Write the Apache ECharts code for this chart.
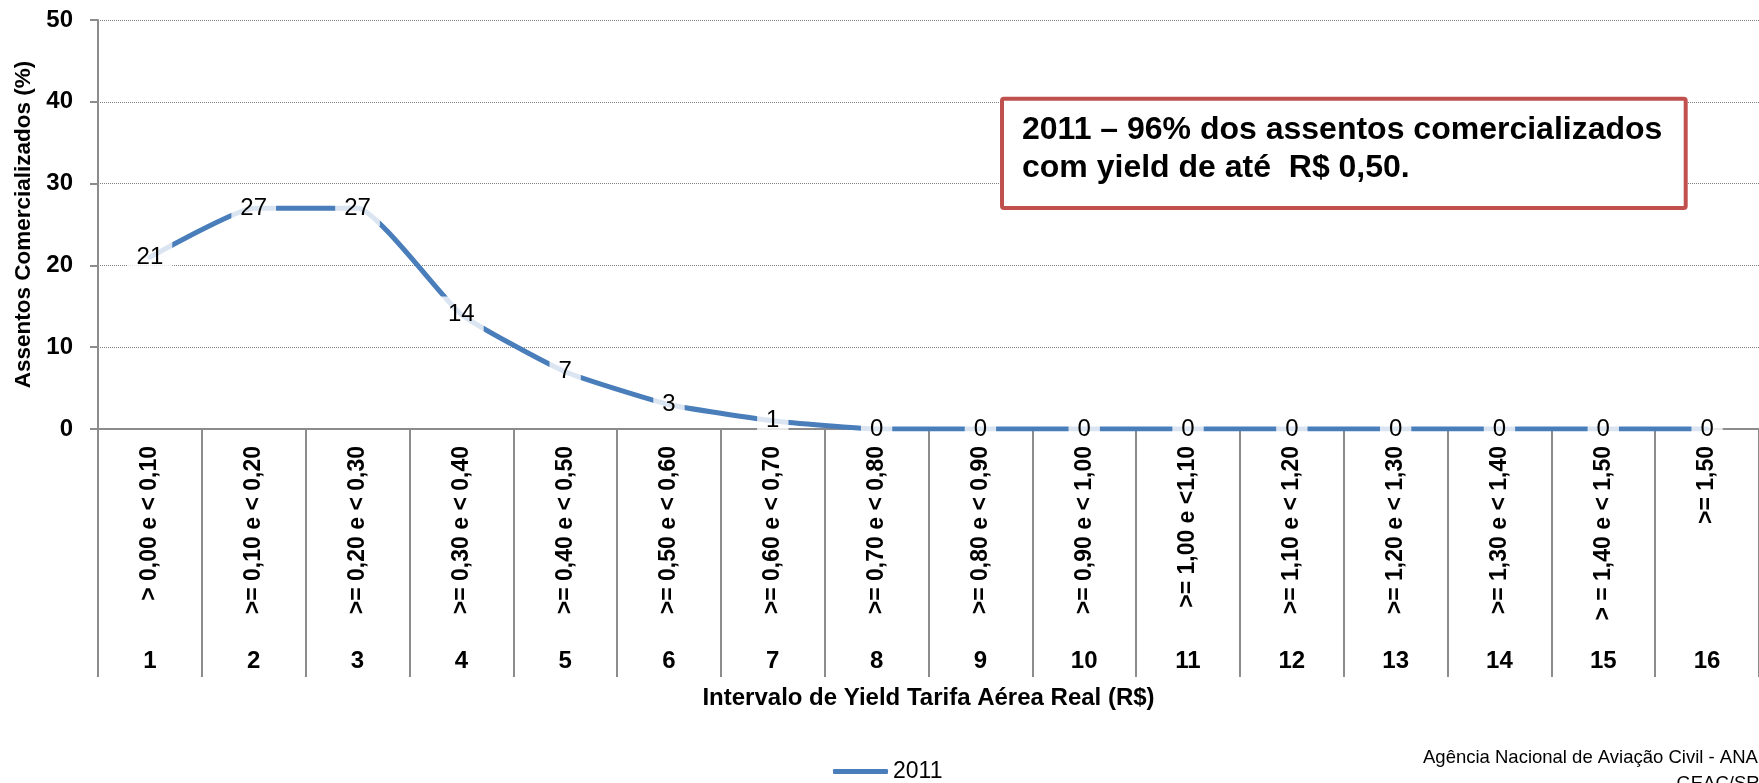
<!DOCTYPE html>
<html>
<head>
<meta charset="utf-8">
<title>Assentos Comercializados por Intervalo de Yield - 2011</title>
<script src="https://cdn.jsdelivr.net/npm/echarts@6/dist/echarts.min.js"></script>
<style>
  html, body { margin: 0; padding: 0; background: #ffffff; }
  #chart { width: 1759px; height: 783px; }
</style>
</head>
<body>
<div id="chart"></div>
<script>
// Yield ranges (R$) shown on the first category level
const intervalLabels = [
  '> 0,00 e < 0,10',
  '>= 0,10 e < 0,20',
  '>= 0,20 e < 0,30',
  '>= 0,30 e < 0,40',
  '>= 0,40 e < 0,50',
  '>= 0,50 e < 0,60',
  '>= 0,60 e < 0,70',
  '>= 0,70 e < 0,80',
  '>= 0,80 e < 0,90',
  '>= 0,90 e < 1,00',
  '>= 1,00 e <1,10',
  '>= 1,10 e < 1,20',
  '>= 1,20 e < 1,30',
  '>= 1,30 e < 1,40',
  '> = 1,40 e < 1,50',
  '>= 1,50'
];

// Interval numbers shown on the second category level
const intervalNumbers = ['1', '2', '3', '4', '5', '6', '7', '8', '9', '10', '11', '12', '13', '14', '15', '16'];

// Share of seats sold in each yield interval, 2011 (%)
const seats2011 = [21, 27, 27, 14, 7, 3, 1, 0, 0, 0, 0, 0, 0, 0, 0, 0];

const seriesName = '2011';
const yAxisTitle = 'Assentos Comercializados (%)';
const xAxisTitle = 'Intervalo de Yield Tarifa Aérea Real (R$)';
const highlightLines = ['2011 – 96% dos assentos comercializados', 'com yield de até  R$ 0,50.'];
const sourceLines = ['Agência Nacional de Aviação Civil - ANAC', 'GEAC/SRE'];

const FONT = '"Liberation Sans", Arial, sans-serif';
const LINE_BLUE = '#4a7ebb';
const AXIS_GRAY = '#8c8c8c';
const BOX_RED = '#c0504d';

const chart = echarts.init(document.getElementById('chart'), null, { renderer: 'canvas' });

chart.setOption({
  animation: false,
  backgroundColor: '#ffffff',
  textStyle: { fontFamily: FONT, color: '#000' },
  grid: { left: 98, top: 20, width: 1670, height: 409, containLabel: false },
  legend: {
    data: [{ name: seriesName, icon: 'roundRect' }],
    left: 833,
    top: 760,
    padding: 0,
    itemWidth: 55,
    itemHeight: 5,
    selectedMode: false,
    textStyle: { fontFamily: FONT, fontSize: 23, color: '#000' }
  },
  xAxis: [
    {
      type: 'category',
      gridIndex: 0,
      position: 'bottom',
      data: intervalLabels,
      boundaryGap: true,
      axisLine: { show: true, lineStyle: { color: AXIS_GRAY, width: 2 } },
      axisTick: { show: true, interval: 0, length: 248, lineStyle: { color: AXIS_GRAY, width: 2 } },
      axisLabel: {
        interval: 0, rotate: 90, margin: 17,
        fontFamily: FONT, fontSize: 23, fontWeight: 'bold', color: '#000'
      },
      splitLine: { show: false },
      name: xAxisTitle,
      nameLocation: 'middle',
      nameGap: 257,
      nameTextStyle: { fontFamily: FONT, fontSize: 24, fontWeight: 'bold', color: '#000' }
    },
    {
      type: 'category',
      gridIndex: 0,
      position: 'bottom',
      data: intervalNumbers,
      boundaryGap: true,
      axisLine: { show: false },
      axisTick: { show: false },
      axisLabel: {
        interval: 0, margin: 220,
        fontFamily: FONT, fontSize: 24, fontWeight: 'bold', color: '#000'
      },
      splitLine: { show: false }
    }
  ],
  yAxis: {
    type: 'value',
    min: 0,
    max: 50,
    interval: 10,
    axisLine: { show: true, lineStyle: { color: AXIS_GRAY, width: 2 } },
    axisTick: { show: true, length: 8, lineStyle: { color: AXIS_GRAY, width: 2 } },
    axisLabel: { margin: 25, fontFamily: FONT, fontSize: 24, fontWeight: 'bold', color: '#000' },
    splitLine: { show: true, lineStyle: { type: 'dotted', color: '#808080', width: 1 } },
    name: yAxisTitle,
    nameLocation: 'middle',
    nameGap: 63,
    nameTextStyle: { fontFamily: FONT, fontSize: 22.5, fontWeight: 'bold', color: '#000' }
  },
  series: [
    {
      name: seriesName,
      type: 'line',
      xAxisIndex: 0,
      yAxisIndex: 0,
      data: seats2011,
      smooth: 0.15,
      symbol: 'circle',
      symbolSize: 1,
      showSymbol: true,
      lineStyle: { color: LINE_BLUE, width: 5, cap: 'round' },
      itemStyle: { color: LINE_BLUE },
      emphasis: { disabled: true },
      label: {
        show: true,
        position: 'inside',
        fontFamily: FONT,
        fontSize: 24,
        lineHeight: 24,
        color: '#000',
        backgroundColor: 'rgba(255,255,255,0.8)',
        padding: [6, 9]
      },
      z: 3
    }
  ],
  graphic: [
    {
      type: 'rect',
      z: 100,
      shape: { x: 1002, y: 98.7, width: 683.7, height: 109.3, r: 2 },
      style: { fill: '#ffffff', stroke: BOX_RED, lineWidth: 4 }
    },
    {
      type: 'text',
      z: 101,
      x: 1022,
      y: 111,
      style: {
        text: highlightLines.join('\n'),
        fontFamily: FONT,
        fontSize: 32,
        fontWeight: 'bold',
        lineHeight: 38,
        fill: '#000',
        verticalAlign: 'top',
        align: 'left'
      }
    },
    {
      type: 'text',
      z: 101,
      x: 1423,
      y: 758,
      style: {
        text: sourceLines[0],
        fontFamily: FONT,
        fontSize: 18.5,
        fill: '#000',
        verticalAlign: 'middle',
        align: 'left'
      }
    },
    {
      type: 'text',
      z: 101,
      x: 1772,
      y: 784,
      style: {
        text: sourceLines[1],
        fontFamily: FONT,
        fontSize: 18.5,
        fill: '#000',
        verticalAlign: 'middle',
        align: 'right'
      }
    }
  ]
});
</script>
</body>
</html>
